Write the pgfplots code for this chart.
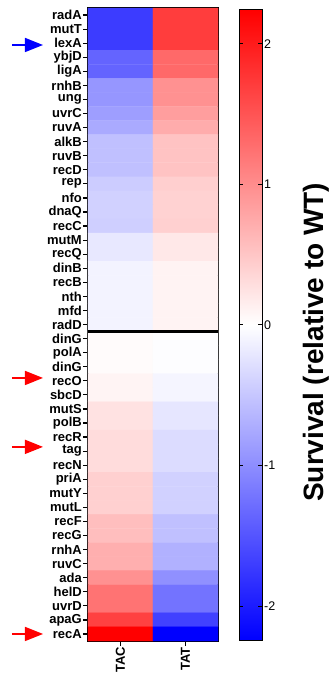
\documentclass[border=0pt]{standalone}
\usepackage{fontspec}
\setmainfont{Liberation Sans}
\usepackage{pgfplots}
\pgfplotsset{compat=1.18}
\usetikzlibrary{arrows.meta}

\begin{document}
\begin{tikzpicture}
\useasboundingbox (-88bp,-32bp) rectangle (245bp,641bp);
\begin{axis}[
  at={(0,0)}, anchor=south west,
  scale only axis, width=130bp, height=633bp,
  xmin=-0.5, xmax=1.5, ymin=-0.5, ymax=44.5, y dir=reverse,
  enlargelimits=false,
  axis line style={line width=1.5bp},
  xtick={0,1}, xticklabels={TAC,TAT},
  ytick={0,...,44},
  yticklabels={radA,mutT,lexA,ybjD,ligA,rnhB,ung,uvrC,ruvA,alkB,ruvB,recD,rep,nfo,dnaQ,recC,mutM,recQ,dinB,recB,nth,mfd,radD,dinG,polA,dinG,recO,sbcD,mutS,polB,recR,tag,recN,priA,mutY,mutL,recF,recG,rnhA,ruvC,ada,helD,uvrD,apaG,recA},
  tick align=outside, xtick pos=bottom, ytick pos=left,
  major tick length=5bp,
  tick style={line width=1.2bp, black},
  yticklabel style={font=\fontsize{13bp}{14bp}\selectfont\bfseries, inner sep=1bp},
  xticklabel style={font=\fontsize{13bp}{14bp}\selectfont\bfseries, rotate=90, anchor=east, inner sep=1bp},
  colormap={bwr}{rgb255(0cm)=(0,0,255); rgb255(1cm)=(255,255,255); rgb255(2cm)=(255,0,0)},
  point meta min=-2.24, point meta max=2.24,
  colorbar right,
  colorbar shift/.style={xshift=0pt},
  colorbar/width=23bp,
  colorbar style={
    at={(parent axis.north east)}, anchor=north west,
    xshift=21bp, yshift=-2bp,
    scale only axis, width=23bp, height=630bp,
    ytick={-2,-1,0,1,2},
    ytick pos=both, yticklabel pos=right,
    tick align=inside,
    major tick length=4bp,
    tick style={line width=1bp, black},
    axis line style={line width=1bp},
    yticklabel style={font=\fontsize{12.5bp}{13bp}\selectfont, /pgf/number format/assume math mode=true, inner sep=2bp},
  },
  clip=false,
]
\addplot[matrix plot*, mesh/cols=2, point meta=explicit] table[meta=c] {
x y c
0 0 -1.71
1 0 1.71
0 1 -1.71
1 1 1.71
0 2 -1.71
1 2 1.71
0 3 -1.36
1 3 1.32
0 4 -1.36
1 4 1.32
0 5 -0.92
1 5 0.97
0 6 -0.92
1 6 0.97
0 7 -0.85
1 7 0.85
0 8 -0.75
1 8 0.73
0 9 -0.55
1 9 0.53
0 10 -0.55
1 10 0.53
0 11 -0.55
1 11 0.53
0 12 -0.45
1 12 0.42
0 13 -0.40
1 13 0.40
0 14 -0.40
1 14 0.40
0 15 -0.42
1 15 0.41
0 16 -0.20
1 16 0.20
0 17 -0.20
1 17 0.20
0 18 -0.10
1 18 0.11
0 19 -0.10
1 19 0.11
0 20 -0.10
1 20 0.11
0 21 -0.10
1 21 0.11
0 22 -0.10
1 22 0.11
0 23 0.04
1 23 -0.02
0 24 0.04
1 24 -0.02
0 25 0.04
1 25 -0.02
0 26 0.10
1 26 -0.09
0 27 0.10
1 27 -0.09
0 28 0.26
1 28 -0.22
0 29 0.26
1 29 -0.22
0 30 0.31
1 30 -0.31
0 31 0.31
1 31 -0.31
0 32 0.31
1 32 -0.31
0 33 0.41
1 33 -0.40
0 34 0.41
1 34 -0.40
0 35 0.41
1 35 -0.40
0 36 0.57
1 36 -0.55
0 37 0.57
1 37 -0.55
0 38 0.70
1 38 -0.68
0 39 0.70
1 39 -0.68
0 40 0.97
1 40 -0.97
0 41 1.23
1 41 -1.23
0 42 1.23
1 42 -1.23
0 43 1.67
1 43 -1.67
0 44 2.24
1 44 -2.24
};
\draw[line width=2.5bp] (axis cs:-0.5,22.5) -- (axis cs:1.5,22.5);
\draw[blue, line width=1.5bp, -{Triangle[length=18bp, width=14bp]}] ([xshift=-76bp]axis cs:-0.5,2.13) -- ([xshift=-45bp]axis cs:-0.5,2.13);
\draw[red, line width=1.5bp, -{Triangle[length=18bp, width=14bp]}] ([xshift=-76bp]axis cs:-0.5,25.8) -- ([xshift=-45bp]axis cs:-0.5,25.8);
\draw[red, line width=1.5bp, -{Triangle[length=18bp, width=14bp]}] ([xshift=-76bp]axis cs:-0.5,30.7) -- ([xshift=-45bp]axis cs:-0.5,30.7);
\draw[red, line width=1.5bp, -{Triangle[length=18bp, width=14bp]}] ([xshift=-76bp]axis cs:-0.5,44.0) -- ([xshift=-45bp]axis cs:-0.5,44.0);
\node[rotate=90, inner sep=0pt, font=\fontsize{28bp}{30bp}\selectfont\bfseries] at (axis description cs:1.755,0.472) {Survival (relative to WT)};
\end{axis}
\end{tikzpicture}
\end{document}
